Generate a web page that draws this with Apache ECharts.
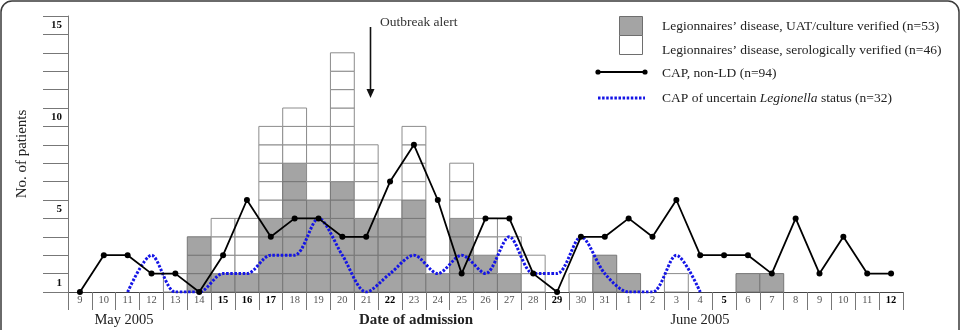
<!DOCTYPE html>
<html>
<head>
<meta charset="utf-8">
<script src="https://cdn.jsdelivr.net/npm/echarts@6/dist/echarts.min.js"></script>
<style>html,body{margin:0;padding:0;background:#fff;}#c{width:961px;height:330px;}</style>
</head>
<body>
<div id="c"></div>
<script>
const categories = ['May 9','May 10','May 11','May 12','May 13','May 14','May 15','May 16','May 17','May 18','May 19','May 20','May 21','May 22','May 23','May 24','May 25','May 26','May 27','May 28','May 29','May 30','May 31','Jun 1','Jun 2','Jun 3','Jun 4','Jun 5','Jun 6','Jun 7','Jun 8','Jun 9','Jun 10','Jun 11','Jun 12'];
const boldDays = ['May 15','May 16','May 17','May 22','May 29','Jun 5','Jun 12'];
const ldUatCulture = [0,0,0,0,0,3,1,1,4,7,5,6,4,4,5,1,4,2,1,0,0,0,2,1,0,0,0,0,1,1,0,0,0,0,0];
const ldSerology   = [0,0,0,0,1,0,3,3,5,3,4,7,4,1,4,1,3,2,2,2,0,1,0,0,0,1,0,0,0,0,0,0,0,0,0];
const capNonLD     = [0,2,2,1,1,0,2,5,3,4,4,3,3,6,8,5,1,4,4,1,0,3,3,4,3,5,2,2,2,1,4,1,3,1,1];
const capUncertain = [null,null,0,2,0,0,1,1,2,2,4,2,0,1,2,1,2,1,3,1,1,3,1,0,0,2,0,null,null,null,null,null,null,null,null];
const yTickLabels = {1:'1',5:'5',10:'10',15:'15'};

const chart = echarts.init(document.getElementById('c'));
const serif = '"Liberation Serif","DejaVu Serif",serif';

const boxData = categories.map((c,i)=>[i, ldUatCulture[i], ldSerology[i]]);

function renderBoxes(params, api){
  const idx = api.value(0), g = api.value(1), w = api.value(2);
  const size = api.size([1,1]);
  const children = [];
  for(let k=0;k<g+w;k++){
    const p = api.coord([idx, k+1]);
    children.push({
      type:'rect',
      shape:{x:p[0]-size[0]/2, y:p[1], width:size[0], height:size[1]},
      style:{fill: k<g ? '#a4a4a4' : '#ffffff', stroke: k<g ? '#777' : '#8c8c8c', lineWidth:1}
    });
  }
  return {type:'group', children};
}

chart.setOption({
  backgroundColor:'#fff',
  animation:false,
  grid:{left:68,right:58,top:16,bottom:38},
  xAxis:{
    type:'category', data:categories, boundaryGap:true,
    axisLine:{lineStyle:{color:'#444',width:1}},
    axisTick:{show:true,interval:0,length:18,lineStyle:{color:'#777'}},
    axisLabel:{interval:0,margin:3,fontFamily:serif,fontSize:10.5,color:'#555',
      formatter:v=>{const d=v.split(' ')[1];return boldDays.includes(v)?'{b|'+d+'}':d;},
      rich:{b:{fontFamily:serif,fontSize:10.5,fontWeight:'bold',color:'#000'}}}
  },
  yAxis:{
    type:'value', min:0, max:15, interval:1,
    name:'No. of patients', nameLocation:'middle', nameGap:38,
    nameTextStyle:{fontFamily:serif,fontSize:15,color:'#222'},
    axisLine:{show:true,lineStyle:{color:'#777'}},
    axisTick:{show:true,length:25,lineStyle:{color:'#777'}},
    splitLine:{show:false},
    axisLabel:{margin:6,fontFamily:serif,fontSize:11,fontWeight:'bold',color:'#111',
      verticalAlign:'top',padding:[4,0,0,0],
      formatter:v=>yTickLabels[v]||''}
  },
  series:[
    {type:'custom', renderItem:renderBoxes, data:boxData, encode:{x:0,y:[1,2]}, z:2},
    {type:'line', data:capNonLD, symbol:'circle', symbolSize:6, showSymbol:true,
      lineStyle:{color:'#000',width:1.8}, itemStyle:{color:'#000'}, z:4},
    {type:'line', data:capUncertain, smooth:0.3, showSymbol:false, connectNulls:false,
      lineStyle:{color:'#1414e6',width:3,type:[2.5,1.6]}, z:3}
  ],
  graphic:[
    {type:'rect',shape:{x:1,y:1,width:958,height:360,r:11},style:{fill:'none',stroke:'#3a3a3a',lineWidth:1.5},silent:true},
    {type:'text',x:124,y:320,style:{text:'May 2005',font:'14.5px '+serif,fill:'#222',textAlign:'center',textVerticalAlign:'middle'}},
    {type:'text',x:416,y:320,style:{text:'Date of admission',font:'bold 15px '+serif,fill:'#222',textAlign:'center',textVerticalAlign:'middle'}},
    {type:'text',x:700,y:320,style:{text:'June 2005',font:'14.5px '+serif,fill:'#222',textAlign:'center',textVerticalAlign:'middle'}},
    {type:'text',x:380,y:22,style:{text:'Outbreak alert',font:'13.5px '+serif,fill:'#333',textVerticalAlign:'middle'}},
    {type:'line',shape:{x1:370.5,y1:27,x2:370.5,y2:92},style:{stroke:'#111',lineWidth:1.6}},
    {type:'polygon',shape:{points:[[366.5,89],[374.5,89],[370.5,98]]},style:{fill:'#111'}},
    {type:'rect',shape:{x:619.5,y:16.5,width:23,height:19},style:{fill:'#a4a4a4',stroke:'#6e6e6e',lineWidth:1}},
    {type:'rect',shape:{x:619.5,y:35.5,width:23,height:19},style:{fill:'#fff',stroke:'#6e6e6e',lineWidth:1}},
    {type:'line',shape:{x1:598,y1:72,x2:645,y2:72},style:{stroke:'#000',lineWidth:1.8}},
    {type:'circle',shape:{cx:598,cy:72,r:2.6},style:{fill:'#000'}},
    {type:'circle',shape:{cx:645,cy:72,r:2.6},style:{fill:'#000'}},
    {type:'line',shape:{x1:598,y1:98,x2:645,y2:98},style:{stroke:'#1414e6',lineWidth:3,lineDash:[2.5,1.6]}},
    {type:'text',x:662,y:26,style:{text:'Legionnaires\u2019 disease, UAT/culture verified (n=53)',font:'13.5px '+serif,fill:'#222',textVerticalAlign:'middle'}},
    {type:'text',x:662,y:50,style:{text:'Legionnaires\u2019 disease, serologically verified (n=46)',font:'13.5px '+serif,fill:'#222',textVerticalAlign:'middle'}},
    {type:'text',x:662,y:73,style:{text:'CAP, non-LD (n=94)',font:'13.5px '+serif,fill:'#222',textVerticalAlign:'middle'}},
    {type:'text',x:662,y:98,style:{text:'{n|CAP of uncertain }{i|Legionella}{n| status (n=32)}',textVerticalAlign:'middle',
      rich:{n:{font:'13.5px '+serif,fill:'#222'},i:{font:'italic 13.5px '+serif,fill:'#222'}}}}
  ]
});
</script>
</body>
</html>
